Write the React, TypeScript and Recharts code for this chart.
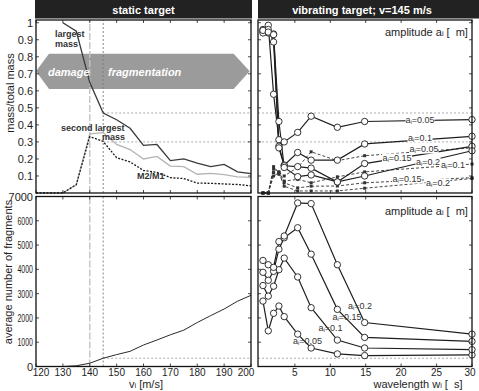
import { LineChart, Line, XAxis, YAxis, ReferenceLine, ReferenceArea } from 'recharts'

const W = 479
const H = 391
const FONT = '"Liberation Sans", Arial, Helvetica, sans-serif'
const INK = '#1e1e1e'

// panel edges in px
const L0 = 36, L1 = 251, R0 = 258, R1 = 472
const T0 = 20, T1 = 193, B0 = 196.5, B1 = 366.5
const AXW = 28 // room given to y axes
const AXH = 16 // room given to x axes

// static target
const velocity = [120, 125, 130, 135, 140, 145, 150, 155, 160, 165, 170, 175, 180, 185, 190, 195, 200]
const largestMass = [null, null, 1.0, 0.95, 0.65, 0.47, 0.43, 0.38, 0.28, 0.285, 0.19, 0.2, 0.175, 0.155, 0.168, 0.124, 0.114]
const secondMass = [null, null, 0, 0.048, 0.347, 0.355, 0.285, 0.255, 0.2, 0.215, 0.158, 0.155, 0.11, 0.115, 0.108, 0.095, 0.092]
const massRatio = [0, 0, 0, 0.05, 0.331, 0.303, 0.207, 0.183, 0.132, 0.122, 0.09, 0.085, 0.058, 0.057, 0.053, 0.05, 0.042]
const fragments = [null, null, 0, 30, 135, 340, 490, 625, 885, 1090, 1306, 1497, 1810, 2095, 2367, 2690, 2930]

const velocityTicks = [120, 130, 140, 150, 160, 170, 180, 190, 200]
const massTicks = [0.1, 0.2, 0.3, 0.4, 0.5, 0.6, 0.7, 0.8, 0.9, 1]
const fragTicks = [0, 1000, 2000, 3000, 4000, 5000, 6000, 7000]

// vibrating target, v = 145 m/s
const wavelength = [0.5, 1.25, 2, 2.75, 3.5, 5.4, 7.3, 11, 14.85, 30]
const massA005 = [0.95, 0.985, 0.58, 0.313, 0.3, 0.356, 0.451, 0.386, 0.42, 0.431]
const massA01 = [0.96, 0.94, 0.934, 0.275, 0.164, 0.238, 0.193, 0.193, 0.288, 0.333]
const massA015 = [0.94, 0.96, 0.887, 0.265, 0.16, 0.155, 0.146, 0.065, 0.173, 0.274]
const massA02 = [0.955, 0.945, 0.93, 0.42, 0.15, 0.096, 0.106, 0.065, 0.1, 0.248]
const ratioA005 = [0, 0, 0.155, 0.12, 0.1, 0.15, 0.242, 0.19, 0.219, 0.265]
const ratioA01 = [0, 0, 0.14, 0.125, 0.07, 0.08, 0.06, 0.095, 0.124, 0.17]
const ratioA015 = [0, 0, 0.12, 0.11, 0.06, 0.03, 0.04, 0.041, 0.06, 0.09]
const ratioA02 = [0, 0, 0.1, 0.118, 0.04, 0.012, 0.012, 0.012, 0.028, 0.085]
const fragA005 = [2694, 1469, 2190, 2490, 2054, 1333, 762, 517, 449, 476]
const fragA01 = [3333, 2898, 3306, 3986, 4463, 3687, 2422, 1088, 762, 694]
const fragA015 = [3878, 3551, 3918, 4830, 5300, 5714, 4626, 2353, 1197, 1034]
const fragA02 = [4367, 4190, 4082, 5143, 5374, 6735, 6707, 4190, 1810, 1333]

const wavelengthTicks = [5, 10, 15, 20, 25, 30]

const staticData = velocity.map((v, i) => ({
  v, largest: largestMass[i], second: secondMass[i], ratio: massRatio[i], frag: fragments[i],
}))
const vibData = wavelength.map((w, i) => ({
  w,
  m005: massA005[i], m01: massA01[i], m015: massA015[i], m02: massA02[i],
  r005: ratioA005[i], r01: ratioA01[i], r015: ratioA015[i], r02: ratioA02[i],
  f005: fragA005[i], f01: fragA01[i], f015: fragA015[i], f02: fragA02[i],
}))

const txt = { fontFamily: FONT, fill: INK }

// inward MATLAB-style ticks on both edges, optional labels
function xTick(top: number, bottom: number, labels: boolean, nudge: Record<number, number> = {}) {
  return (p: any) => (
    <g key={`xt-${p.index}`}>
      <line x1={p.x} x2={p.x} y1={bottom} y2={bottom - 3} stroke={INK} strokeWidth={0.8} />
      <line x1={p.x} x2={p.x} y1={top} y2={top + 3} stroke={INK} strokeWidth={0.8} />
      {labels && (
        <text x={p.x + (nudge[p.payload.value] ?? 0)} y={bottom + 6} textAnchor="middle" dominantBaseline="central" fontSize={10} style={txt}>
          {p.payload.value}
        </text>
      )}
    </g>
  )
}
function yTick(left: number, right: number, labels: boolean, squeeze?: (v: number) => number | undefined) {
  return (p: any) => {
    const len = squeeze ? squeeze(p.payload.value) : undefined
    return (
      <g key={`yt-${p.index}`}>
        <line x1={left} x2={left + 3} y1={p.y} y2={p.y} stroke={INK} strokeWidth={0.8} />
        <line x1={right} x2={right - 3} y1={p.y} y2={p.y} stroke={INK} strokeWidth={0.8} />
        {labels && (
          <text x={left - 3} y={p.y} textAnchor="end" dominantBaseline="central" fontSize={11} style={txt}
            {...(len ? { textLength: len, lengthAdjust: 'spacingAndGlyphs' } : {})}>
            {p.payload.value}
          </text>
        )}
      </g>
    )
  }
}

const OpenCircle = (p: any) =>
  p.cx == null || p.cy == null || p.value == null ? (
    <g key={`c-${p.dataKey}-${p.index}`} />
  ) : (
    <circle key={`c-${p.dataKey}-${p.index}`} cx={p.cx} cy={p.cy} r={3.2} fill="#fff" stroke={INK} strokeWidth={0.9} />
  )
const SmallSquare = (p: any) =>
  p.cx == null || p.cy == null ? (
    <g key={`s-${p.dataKey}-${p.index}`} />
  ) : (
    <rect key={`s-${p.dataKey}-${p.index}`} x={p.cx - 1.5} y={p.cy - 1.5} width={3} height={3} fill="#333" />
  )

const Arrow = (p: any) => {
  const { x, y, width: w, height: h } = p
  const pts = [
    [x, y + h / 2], [x + 13, y], [x + w - 16, y], [x + w, y + h / 2], [x + w - 16, y + h], [x + 13, y + h],
  ].map((q) => q.join(',')).join(' ')
  return <polygon points={pts} fill="#9b9b9b" />
}

const layer = { position: 'absolute' as const, left: 0, top: 0 }
const refDash = { stroke: '#8a8a8a', strokeDasharray: '2 2', strokeWidth: 0.7 }

function Ai({ v }: { v: string }) {
  return (
    <>
      <tspan>a</tspan>
      <tspan fontSize="0.65em" dy={2}>i</tspan>
      <tspan dy={-2}>={v}</tspan>
    </>
  )
}

const topRightLabels = [
  { v: '0.05', x: 420, y: 120, w: 29 },
  { v: '0.1', x: 420, y: 137.5, w: 25 },
  { v: '0.05', x: 424, y: 149, w: 29 },
  { v: '0.15', x: 397, y: 158, w: 30 },
  { v: '0.2', x: 428, y: 161.5, w: 25 },
  { v: '0.1', x: 453, y: 165, w: 25 },
  { v: '0.15', x: 407, y: 179, w: 30 },
  { v: '0.2', x: 438, y: 183, w: 25 },
]
const bottomRightLabels = [
  { v: '0.2', x: 360, y: 305.5 },
  { v: '0.15', x: 347, y: 316.5 },
  { v: '0.1', x: 330.5, y: 328 },
  { v: '0.05', x: 307.5, y: 340.5 },
]

function margins(x0: number, y0: number, x1: number, y1: number) {
  return { top: y0, bottom: H - y1 - AXH, left: x0 - AXW, right: W - x1 }
}

// the reference squeezes the inner fragment labels
const squeezeFrag = (v: number) => (v > 0 && v < 7000 ? 15.5 : undefined)

export default function App() {
  return (
    <div style={{ position: 'absolute', left: 0, top: 0, width: W, height: H, background: '#fff', overflow: 'hidden' }}>
      {/* static target: masses */}
      <div style={layer}>
        <LineChart width={W} height={H} data={staticData} margin={margins(L0, T0, L1, T1)}>
          <XAxis type="number" dataKey="v" domain={[120, 200]} ticks={velocityTicks} interval={0} height={AXH}
            axisLine={false} tickLine={false} tick={xTick(T0, T1, false)} />
          <YAxis type="number" domain={[0, 1.016]} ticks={massTicks} interval={0} width={AXW}
            axisLine={false} tickLine={false} tick={yTick(L0, L1, true)} />
          <ReferenceArea x1={120} x2={199.5} y1={0.611} y2={0.818} shape={Arrow} />
          <ReferenceLine x={140} stroke="#c4c4c4" strokeWidth={1.4} strokeDasharray="7 2" />
          <ReferenceLine x={145} stroke="#7a7a7a" strokeWidth={0.9} strokeDasharray="2 2" />
          <ReferenceLine segment={[{ x: 145, y: 0.47 }, { x: 200, y: 0.47 }]} {...refDash} />
          <ReferenceLine segment={[{ x: 145, y: 0.3 }, { x: 200, y: 0.3 }]} {...refDash} />
          <Line dataKey="second" stroke="#b4b4b4" strokeWidth={1.3} dot={false} isAnimationActive={false} />
          <Line dataKey="ratio" stroke="#1a1a1a" strokeWidth={1.3} strokeDasharray="2 1.5" dot={false} isAnimationActive={false} />
          <Line dataKey="largest" stroke="#3a3a3a" strokeWidth={1.3} dot={false} isAnimationActive={false} />
        </LineChart>
      </div>

      {/* static target: fragments */}
      <div style={layer}>
        <LineChart width={W} height={H} data={staticData} margin={margins(L0, B0, L1, B1)}>
          <XAxis type="number" dataKey="v" domain={[120, 200]} ticks={velocityTicks} interval={0} height={AXH}
            axisLine={false} tickLine={false} tick={xTick(B0, B1, true, { 120: 5, 200: -5 })} />
          <YAxis type="number" domain={[0, 7000]} ticks={fragTicks} interval={0} width={AXW}
            axisLine={false} tickLine={false} tick={yTick(L0, L1, true, squeezeFrag)} />
          <ReferenceLine x={140} stroke="#c4c4c4" strokeWidth={1.4} strokeDasharray="7 2" />
          <ReferenceLine x={145} stroke="#7a7a7a" strokeWidth={0.9} strokeDasharray="2 2" />
          <ReferenceLine segment={[{ x: 145, y: 340 }, { x: 200, y: 340 }]} {...refDash} />
          <Line dataKey="frag" stroke="#2a2a2a" strokeWidth={1} dot={false} isAnimationActive={false} />
        </LineChart>
      </div>

      {/* vibrating target: masses */}
      <div style={layer}>
        <LineChart width={W} height={H} data={vibData} margin={margins(R0, T0, R1, T1)}>
          <XAxis type="number" dataKey="w" domain={[-0.2, 30]} ticks={wavelengthTicks} interval={0} height={AXH}
            axisLine={false} tickLine={false} tick={xTick(T0, T1, false)} />
          <YAxis type="number" domain={[0, 1.016]} ticks={massTicks} interval={0} width={AXW}
            axisLine={false} tickLine={false} tick={yTick(R0, R1, false)} />
          <ReferenceLine y={0.47} {...refDash} />
          <ReferenceLine y={0.3} {...refDash} />
          {['r005', 'r01', 'r015', 'r02'].map((k) => (
            <Line key={k} dataKey={k} stroke="#333" strokeWidth={0.9} strokeDasharray="3 2" dot={SmallSquare} isAnimationActive={false} />
          ))}
          {['m005', 'm01', 'm015', 'm02'].map((k) => (
            <Line key={k} dataKey={k} stroke={INK} strokeWidth={1.2} dot={OpenCircle} isAnimationActive={false} />
          ))}
        </LineChart>
      </div>

      {/* vibrating target: fragments */}
      <div style={layer}>
        <LineChart width={W} height={H} data={vibData} margin={margins(R0, B0, R1, B1)}>
          <XAxis type="number" dataKey="w" domain={[-0.2, 30]} ticks={wavelengthTicks} interval={0} height={AXH}
            axisLine={false} tickLine={false} tick={xTick(B0, B1, true, { 30: -2 })} />
          <YAxis type="number" domain={[0, 7000]} ticks={fragTicks} interval={0} width={AXW}
            axisLine={false} tickLine={false} tick={yTick(R0, R1, false)} />
          <ReferenceLine y={340} {...refDash} />
          {['f005', 'f01', 'f015', 'f02'].map((k) => (
            <Line key={k} dataKey={k} stroke={INK} strokeWidth={1.2} dot={OpenCircle} isAnimationActive={false} />
          ))}
        </LineChart>
      </div>

      {/* frames, headers and annotations */}
      <svg width={W} height={H} style={{ ...layer, pointerEvents: 'none' }}>
        <rect x={35} y={0} width={217} height={18.5} fill="#222" />
        <rect x={258} y={0} width={W - 258} height={18.5} fill="#222" />
        <text x={143.5} y={10} textAnchor="middle" dominantBaseline="central" fontSize={11} fontWeight="bold" fontFamily={FONT} fill="#fff">
          static target
        </text>
        <text x={362} y={10} textAnchor="middle" dominantBaseline="central" fontSize={11} fontWeight="bold" fontFamily={FONT} fill="#fff">
          vibrating target; v=145 m/s
        </text>

        {[[L0, T0, L1, T1], [L0, B0, L1, B1], [R0, T0, R1, T1], [R0, B0, R1, B1]].map(([x0, y0, x1, y1], i) => (
          <rect key={i} x={x0} y={y0} width={x1 - x0} height={y1 - y0} fill="none" stroke="#111" strokeWidth={1.3} />
        ))}

        <text x={48} y={72} dominantBaseline="central" fontSize={11} fontWeight="bold" fontStyle="italic" fontFamily={FONT} fill="#fff">damage</text>
        <text x={108} y={72} dominantBaseline="central" fontSize={11} fontWeight="bold" fontStyle="italic" fontFamily={FONT} fill="#fff">fragmentation</text>

        <g fontSize={9} fontWeight="bold" fontFamily={FONT} fill="#333">
          <text x={55} y={33.5} dominantBaseline="central">largest</text>
          <text x={55} y={44} dominantBaseline="central">mass</text>
          <text x={61} y={127.5} dominantBaseline="central">second largest</text>
          <text x={102} y={137} dominantBaseline="central">mass</text>
          <text x={137} y={175.5} dominantBaseline="central">M2/M1</text>
        </g>

        <text transform="translate(10,93) rotate(-90)" textAnchor="middle" dominantBaseline="central" fontSize={11} fontFamily={FONT} fill={INK}>
          mass/total mass
        </text>
        <text transform="translate(8,272) rotate(-90)" textAnchor="middle" dominantBaseline="central" fontSize={11} fontFamily={FONT} fill={INK}>
          average number of fragments
        </text>

        <text x={146} y={384} textAnchor="middle" dominantBaseline="central" fontSize={11} fontFamily={FONT} fill={INK}>
          <tspan>v</tspan><tspan fontSize="0.65em" dy={2}>i</tspan><tspan dy={-2}> [m/s]</tspan>
        </text>
        <text x={418} y={384} textAnchor="middle" dominantBaseline="central" fontSize={11} fontFamily={FONT} fill={INK}>
          <tspan>wavelength w</tspan><tspan fontSize="0.65em" dy={2}>i</tspan><tspan dy={-2}>{' [\u00a0\u00a0s]'}</tspan>
        </text>

        {[32, 210.5].map((y) => (
          <text key={y} x={385} y={y} dominantBaseline="central" fontSize={11} fontFamily={FONT} fill={INK}>
            <tspan>amplitude a</tspan><tspan fontSize="0.65em" dy={2}>i</tspan><tspan dy={-2}>{' [\u00a0\u00a0m]'}</tspan>
          </text>
        ))}

        {topRightLabels.map((l, i) => (
          <g key={i}>
            <rect x={l.x - l.w / 2} y={l.y - 4.5} width={l.w} height={9} fill="#fff" />
            <text x={l.x} y={l.y} textAnchor="middle" dominantBaseline="central" fontSize={9} fontFamily={FONT} fill="#333">
              <Ai v={l.v} />
            </text>
          </g>
        ))}
        {bottomRightLabels.map((l, i) => (
          <text key={i} x={l.x} y={l.y} textAnchor="middle" dominantBaseline="central" fontSize={9} fontFamily={FONT} fill="#333">
            <Ai v={l.v} />
          </text>
        ))}
      </svg>
    </div>
  )
}
